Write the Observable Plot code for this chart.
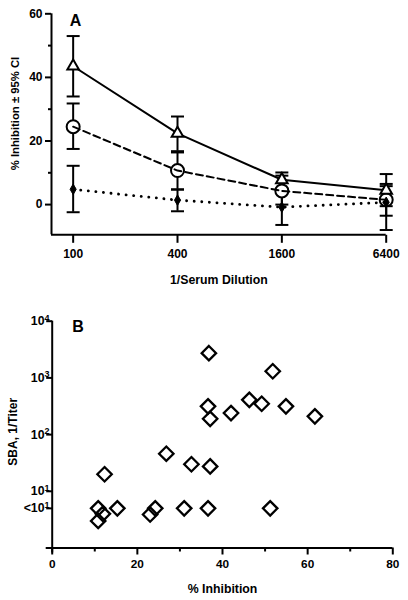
<!DOCTYPE html>
<html>
<head>
<meta charset="utf-8">
<script src="https://cdn.jsdelivr.net/npm/d3@7"></script>
<script src="https://cdn.jsdelivr.net/npm/@observablehq/plot@0.6"></script>
<style>
  html, body { margin: 0; padding: 0; background: white; }
  #wrap { width: 408px; height: 600px; }
  #wrap svg { display: block; }
</style>
</head>
<body>
<div id="wrap"></div>
<script>
// ---------- Panel A data ----------
const dilutions = [100, 400, 1600, 6400];
const triMean = [43.5, 22.4, 7.8, 4.5];
const triLo   = [34.0, 16.8, 5.0, -0.5];
const triHi   = [53.0, 27.7, 10.1, 9.6];
const cirMean = [24.5, 10.7, 4.3, 1.5];
const cirLo   = [17.5, 4.8, 0.0, -3.5];
const cirHi   = [31.8, 16.4, 9.1, 6.5];
const diaMean = [4.8, 1.4, -0.8, 0.7];
const diaLo   = [-2.4, -2.1, -6.4, -8.0];
const diaHi   = [12.2, 4.7, 4.0, 5.8];
const yTicksA = [0, 20, 40, 60];
const yMinorA = [10, 30, 50];

// ---------- Panel B data ----------
const inhibition = [36.8, 51.8, 46.3, 49.2, 36.6, 54.9, 42.0, 37.1, 61.7, 26.8, 32.7, 37.1, 12.3,
                    10.8, 15.3, 24.2, 31.0, 36.6, 51.2, 11.9, 10.8, 23.0];
const titer      = [2730, 1310, 410, 350, 315, 315, 240, 190, 210, 46, 30, 27.5, 20,
                    5, 5, 5, 5, 5, 5, 4.0, 3.0, 3.9];
const xTicksB = [0, 20, 40, 60, 80];
const xMinorB = [10, 30, 50, 70];
const yTicksB = [5, 10, 100, 1000, 10000];
const yLabelsB = ["<10^1", "10^1", "10^2", "10^3", "10^4"];

const font = "'Liberation Sans', Arial, Helvetica, sans-serif";
const series = (mean, lo, hi) => dilutions.map((d, i) => ({d, m: mean[i], lo: lo[i], hi: hi[i]}));
const tri = series(triMean, triLo, triHi);
const cir = series(cirMean, cirLo, cirHi);
const dia = series(diaMean, diaLo, diaHi);

// pixel-sized symbols: error-bar caps and axis tick marks
const cap = { draw(ctx) { ctx.moveTo(-6.5, 0); ctx.lineTo(6.5, 0); } };
const tickDown = len => ({ draw(ctx) { ctx.moveTo(0, 0); ctx.lineTo(0, len); } });
const tickLeft = len => ({ draw(ctx) { ctx.moveTo(0, 0); ctx.lineTo(-len, 0); } });

const bars = (rows) => [
  Plot.ruleX(rows, {x: "d", y1: "lo", y2: "hi", stroke: "black", strokeWidth: 2}),
  Plot.dot(rows, {x: "d", y: "lo", symbol: cap, stroke: "black", fill: "none", strokeWidth: 2}),
  Plot.dot(rows, {x: "d", y: "hi", symbol: cap, stroke: "black", fill: "none", strokeWidth: 2})
];

const plotA = Plot.plot({
  width: 408, height: 300,
  marginLeft: 51, marginRight: 22.3, marginTop: 13.3, marginBottom: 65.7,
  x: {type: "log", domain: [75, 6400], axis: null},
  y: {domain: [-9.5, 60]},
  style: {fontFamily: font, color: "black", background: "white", overflow: "visible"},
  marks: [
    Plot.ruleY([-9.5], {stroke: "black", strokeWidth: 2}),
    Plot.ruleX([75], {stroke: "black", strokeWidth: 2}),
    Plot.dot(dilutions, {x: d => d, frameAnchor: "bottom", symbol: tickDown(8), stroke: "black", fill: "none", strokeWidth: 2}),
    Plot.text(dilutions, {x: d => d, text: d => String(d), frameAnchor: "bottom", dy: 19.7, lineAnchor: "middle", fontSize: 12, fontWeight: "bold"}),
    Plot.axisY(yTicksA, {tickSize: 6, tickPadding: 3, strokeWidth: 2, fontSize: 12, fontWeight: "bold", label: null}),
    Plot.axisY(yMinorA, {tickSize: 3, strokeWidth: 2, label: null, tickFormat: () => ""}),
    ...bars(tri), ...bars(cir), ...bars(dia),
    Plot.dot(cir, {x: "d", y: "m", symbol: "circle", r: 6.5, stroke: "black", fill: "white", strokeWidth: 2}),
    Plot.line(tri, {x: "d", y: "m", stroke: "black", strokeWidth: 2}),
    Plot.line(cir, {x: "d", y: "m", stroke: "black", strokeWidth: 2, strokeDasharray: "7,4"}),
    Plot.line(dia, {x: "d", y: "m", stroke: "black", strokeWidth: 2.8, strokeDasharray: "0.1,7.5", strokeLinecap: "round"}),
    Plot.dot(tri, {x: "d", y: "m", symbol: "triangle", r: 4.3, stroke: "black", fill: "white", strokeWidth: 2}),
    Plot.dot(dia, {x: "d", y: "m", symbol: "diamond", r: 3.2, stroke: "black", fill: "black", strokeWidth: 1}),
    Plot.text(["1/Serum Dilution"], {text: d => d, frameAnchor: "bottom", dy: 45, lineAnchor: "middle", fontSize: 12.3, fontWeight: "bold"}),
    Plot.text(["% Inhibition \u00b1 95% CI"], {text: d => d, frameAnchor: "left", rotate: -90, dx: -36, dy: -10.8, lineAnchor: "middle", textAnchor: "middle", fontSize: 11.3, fontWeight: "bold"}),
    Plot.text(["A"], {text: d => d, frameAnchor: "top-left", dx: 24, dy: 7, textAnchor: "middle", lineAnchor: "middle", fontSize: 16, fontWeight: "bold"})
  ]
});

const plotB = Plot.plot({
  width: 408, height: 300,
  marginLeft: 51.7, marginRight: 15.7, marginTop: 20.7, marginBottom: 52.5,
  x: {domain: [0, 80]},
  y: {type: "log", domain: [1, 10000], axis: null},
  style: {fontFamily: font, color: "black", background: "white", overflow: "visible"},
  marks: [
    Plot.ruleY([1], {stroke: "black", strokeWidth: 2, insetLeft: -6}),
    Plot.ruleX([0], {stroke: "black", strokeWidth: 2, insetBottom: -5}),
    Plot.axisX(xTicksB, {tickSize: 7, tickPadding: 5, strokeWidth: 2, fontSize: 11.8, fontWeight: "bold", label: null}),
    Plot.axisX(xMinorB, {tickSize: 4, strokeWidth: 2, label: null, tickFormat: () => ""}),
    Plot.dot(yTicksB, {y: d => d, frameAnchor: "left", symbol: tickLeft(6), stroke: "black", fill: "none", strokeWidth: 2}),
    Plot.text(yTicksB, {y: d => d, text: (d, i) => yLabelsB[i], frameAnchor: "left", dx: -2.7, textAnchor: "end", lineAnchor: "middle", fontSize: 12.3, fontWeight: "bold"}),
    Plot.dot(inhibition.map((v, i) => ({x: v, y: titer[i]})), {x: "x", y: "y", symbol: "diamond2", r: 6.5, stroke: "black", fill: "none", strokeWidth: 2.3}),
    Plot.text(["% Inhibition"], {text: d => d, frameAnchor: "bottom", dy: 41.5, lineAnchor: "middle", fontSize: 12.3, fontWeight: "bold"}),
    Plot.text(["SBA, 1/Titer"], {text: d => d, frameAnchor: "left", rotate: -90, dx: -38.7, dy: -2.8, lineAnchor: "middle", textAnchor: "middle", fontSize: 12, fontWeight: "bold"}),
    Plot.text(["B"], {text: d => d, frameAnchor: "top-left", dx: 25.8, dy: 5.3, textAnchor: "middle", lineAnchor: "middle", fontSize: 16, fontWeight: "bold"})
  ]
});

// superscripts for the log tick labels
d3.select(plotB).selectAll("text").each(function() {
  const t = this.textContent;
  const m = /^(.*)\^(\d+)$/.exec(t);
  if (!m) return;
  const sel = d3.select(this);
  sel.text(m[1]);
  sel.append("tspan").attr("dy", "-0.5em").attr("font-size", "9px").text(m[2]);
});

const wrap = document.getElementById("wrap");
wrap.appendChild(plotA);
wrap.appendChild(plotB);
</script>
</body>
</html>
